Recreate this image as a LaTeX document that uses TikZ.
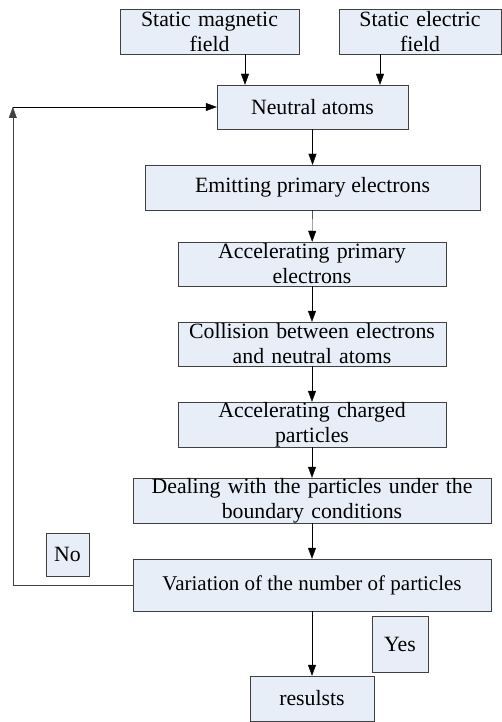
\documentclass[tikz,border=0pt]{standalone}
\usepackage{fontspec}
\setmainfont{Liberation Serif}
\usetikzlibrary{arrows.meta, positioning, calc}
\definecolor{boxfill}{HTML}{E8EEF8}
\definecolor{boxline}{HTML}{404040}
\tikzset{
    box/.style={rectangle, draw=boxline, fill=boxfill, inner sep=0pt, align=center, font=\fontsize{21.8}{25}\selectfont},
    arrow/.style={-{Triangle[length=11pt, width=8pt]}, draw=black}
}
\begin{document}
\begin{tikzpicture}[x=1pt, y=1pt]
    \useasboundingbox (0,0) rectangle (501,-722);
    % input fields
    \node[box, minimum width=179pt, minimum height=45pt, text width=175pt] (magfield) at (209.5,-31.5) {Static magnetic\\field};
    \node[box, minimum width=162pt, minimum height=45pt, text width=158pt] (elecfield) at (420,-31.5) {Static electric\\field};
    % main chain
    \node[box, minimum width=191pt, minimum height=44pt] (neutral) at (312.5,-107) {Neutral atoms};
    \node[box, minimum width=335pt, minimum height=45pt] (emit) at (312.5,-187.5) {Emitting primary electrons};
    \node[box, minimum width=268pt, minimum height=44pt, text width=264pt] (accprim) at (312,-264) {Accelerating primary\\electrons};
    \node[box, minimum width=268pt, minimum height=44pt, text width=264pt] (collide) at (312,-344) {Collision between electrons\\and neutral atoms};
    \node[box, minimum width=268pt, minimum height=45pt, text width=264pt] (accchg) at (312,-424.5) {Accelerating charged\\particles};
    \node[box, minimum width=358pt, minimum height=45pt, text width=354pt] (boundary) at (312,-500.5) {Dealing with the particles under the\\boundary conditions};
    \node[box, minimum width=358pt, minimum height=52pt, font=\fontsize{21}{25}\selectfont] (variation) at (312,-585) {Variation of the number of particles};
    \node[box, minimum width=124pt, minimum height=45pt] (results) at (312,-698.5) {resulsts};
    % decision labels
    \node[box, minimum width=43pt, minimum height=43pt] (nolabel) at (67.5,-554.5) {No};
    \node[box, minimum width=56pt, minimum height=56pt] (yeslabel) at (400,-644) {Yes};
    % connectors
    \draw[arrow] ([xshift=35.5pt]magfield.south) -- ([xshift=35.5pt]magfield.south |- neutral.north);
    \draw[arrow] ([xshift=-40pt]elecfield.south) -- ([xshift=-40pt]elecfield.south |- neutral.north);
    \draw[arrow] (neutral) -- (emit);
    \draw[arrow] (emit) -- (accprim);
    \draw[arrow] (accprim) -- (collide);
    \draw[arrow] (collide) -- (accchg);
    \draw[arrow] (accchg) -- (boundary);
    \draw[arrow] (boundary) -- (variation);
    \draw[arrow] (variation) -- (results);
    % feedback loop
    \coordinate (loopcorner) at ([xshift=-120pt]variation.west |- neutral.west);
    \draw[arrow, draw=boxline] (variation.west) -| (loopcorner);
    \draw[arrow] (loopcorner) -- (neutral.west);
\end{tikzpicture}
\end{document}
